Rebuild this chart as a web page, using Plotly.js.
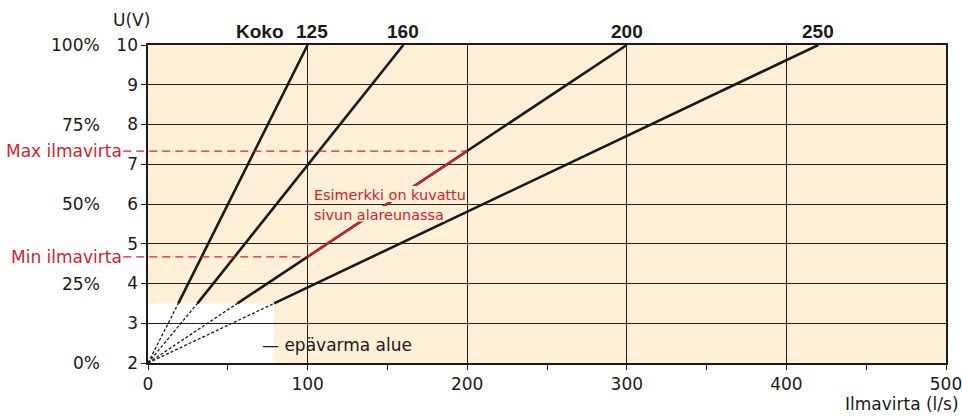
<!DOCTYPE html>
<html>
<head>
<meta charset="utf-8">
<script src="https://cdn.plot.ly/plotly-3.0.1.min.js"></script>
<style>html,body{margin:0;padding:0;background:#fff;}#chart{width:962px;height:419px;}</style>
</head>
<body>
<div id="chart"></div>
<script>
// ---- data ----
const sizeLabels = ['125', '160', '200', '250'];
const flowAtTop = [100, 160, 300, 420];      // l/s at U = 10 V
const flowAtUncertain = [19, 31, 56, 79];    // l/s at U = 3.5 V (end of dotted part)
const voltOrigin = 2;
const voltUncertain = 3.5;
const voltTop = 10;
const uncertainZone = {x: [0, 79], y: [2, 3.5]};
const yTicks = [2, 3, 4, 5, 6, 7, 8, 9, 10];
const xTicks = [0, 100, 200, 300, 400, 500];
const pctVals = [10, 8, 6, 4, 2];
const pctText = ['100%', '75%', '50%', '25%', '0%'];
const maxFlowPoint = {x: 200, y: 7.33, label: 'Max ilmavirta'};
const minFlowPoint = {x: 100, y: 4.67, label: 'Min ilmavirta'};
const noteLines = ['Esimerkki on kuvattu', 'sivun alareunassa'];

const RED = '#d1232f';
const INK = '#1a1a1a';
const BG = '#fff0d7';
const FONT = 'DejaVu Sans, Verdana, sans-serif';
const BFONT = 'Liberation Sans, Arial, Helvetica, sans-serif';
const xMax = 500;

const traces = [];
sizeLabels.forEach((s, i) => {
  traces.push({
    x: [0, flowAtUncertain[i]], y: [voltOrigin, voltUncertain],
    mode: 'lines', line: {color: INK, width: 1.3, dash: '3px,2px'},
    hoverinfo: 'skip', showlegend: false
  });
  traces.push({
    x: [flowAtUncertain[i], flowAtTop[i]], y: [voltUncertain, voltTop],
    mode: 'lines', line: {color: INK, width: 2.6},
    name: s, showlegend: false
  });
});

const shapes = [];
shapes.push({type: 'rect', layer: 'below', xref: 'x', yref: 'y',
  x0: uncertainZone.x[0], x1: uncertainZone.x[1], y0: uncertainZone.y[0], y1: uncertainZone.y[1],
  fillcolor: '#ffffff', line: {width: 0}});
[maxFlowPoint, minFlowPoint].forEach(p => {
  shapes.push({type: 'line', layer: 'above', xref: 'paper', yref: 'y',
    x0: -0.031, x1: p.x / xMax, y0: p.y, y1: p.y,
    line: {color: RED, width: 1.3, dash: '8px,5px'}});
});
// red pointer drawn over the curve between min and max points
shapes.push({type: 'line', layer: 'above', xref: 'x', yref: 'y',
  x0: minFlowPoint.x, y0: minFlowPoint.y, x1: maxFlowPoint.x, y1: maxFlowPoint.y,
  line: {color: RED, width: 2.2}});
// background knock-outs behind the two note lines (keeps the y=6 gridline between them)
shapes.push({type: 'rect', layer: 'above', xref: 'x', yref: 'y', x0: 102, x1: 198.6, y0: 6.05, y1: 6.455,
  fillcolor: BG, line: {width: 0}});
shapes.push({type: 'rect', layer: 'above', xref: 'x', yref: 'y', x0: 102, x1: 186, y0: 5.56, y1: 5.95,
  fillcolor: BG, line: {width: 0}});

const ann = [];
pctVals.forEach((v, i) => ann.push({xref: 'paper', yref: 'y', x: -0.058, y: v,
  xanchor: 'right', yanchor: 'middle', text: pctText[i], showarrow: false,
  font: {size: 17, color: INK, family: FONT}}));
[maxFlowPoint, minFlowPoint].forEach(p => ann.push({xref: 'paper', yref: 'y', x: -0.030, y: p.y,
  xanchor: 'right', yanchor: 'middle', text: p.label, showarrow: false,
  font: {size: 17, color: RED, family: FONT}}));
sizeLabels.forEach((s, i) => ann.push({xref: 'x', yref: 'paper', x: flowAtTop[i], y: 1.044,
  xanchor: 'center', yanchor: 'middle', text: '<b>' + s + '</b>', showarrow: false,
  xshift: i === 0 ? 4 : 0,
  font: {size: 19, color: INK, family: BFONT}}));
ann.push({xref: 'paper', yref: 'paper', x: (260 - 148) / 798, y: 1.044, xanchor: 'center', yanchor: 'middle',
  text: '<b>Koko</b>', showarrow: false, font: {size: 19, color: INK, family: BFONT}});
ann.push({xref: 'paper', yref: 'paper', x: (131 - 148) / 798, y: 1.079, xanchor: 'center', yanchor: 'middle',
  text: 'U(V)', showarrow: false, font: {size: 17, color: INK, family: FONT}});
ann.push({xref: 'paper', yref: 'paper', x: (961 - 148) / 798, y: -(404 - 363) / 318, xanchor: 'right', yanchor: 'middle',
  text: 'Ilmavirta (l/s)', showarrow: false, font: {size: 17, color: INK, family: FONT}});
ann.push({xref: 'x', yref: 'y', x: 70, y: 2.46, xanchor: 'left', yanchor: 'middle',
  text: '— epävarma alue', showarrow: false, font: {size: 17, color: INK, family: FONT}});
noteLines.forEach((t, i) => ann.push({xref: 'x', yref: 'y', x: 103, y: 6.23 - i * 0.5, xanchor: 'left', yanchor: 'middle',
  text: t, showarrow: false, font: {size: 14.4, color: RED, family: FONT}}));

const layout = {
  width: 962, height: 419,
  margin: {l: 148, r: 16, t: 45, b: 56, pad: 0},
  paper_bgcolor: '#ffffff', plot_bgcolor: BG,
  font: {family: FONT, color: INK},
  showlegend: false,
  xaxis: {range: [0, xMax], tickvals: xTicks, ticktext: xTicks.map(String), ticks: 'outside', ticklen: 5, tickcolor: INK,
    ticklabeloverflow: 'allow',
    showgrid: true, gridcolor: '#221e1a', gridwidth: 1, zeroline: false,
    showline: true, linecolor: INK, linewidth: 1.6, mirror: true,
    tickfont: {size: 17, color: INK, family: FONT},
    minor: {dtick: 50, ticks: 'outside', ticklen: 5, tickcolor: INK, showgrid: false}},
  yaxis: {range: [2, 10], tickvals: yTicks, ticks: 'outside', ticklen: 5, tickcolor: INK,
    showgrid: true, gridcolor: '#221e1a', gridwidth: 1, zeroline: false,
    showline: true, linecolor: INK, linewidth: 1.6, mirror: true,
    tickfont: {size: 17, color: INK, family: FONT}},
  shapes: shapes,
  annotations: ann
};

Plotly.newPlot('chart', traces, layout, {displayModeBar: false, staticPlot: true});
</script>
</body>
</html>
